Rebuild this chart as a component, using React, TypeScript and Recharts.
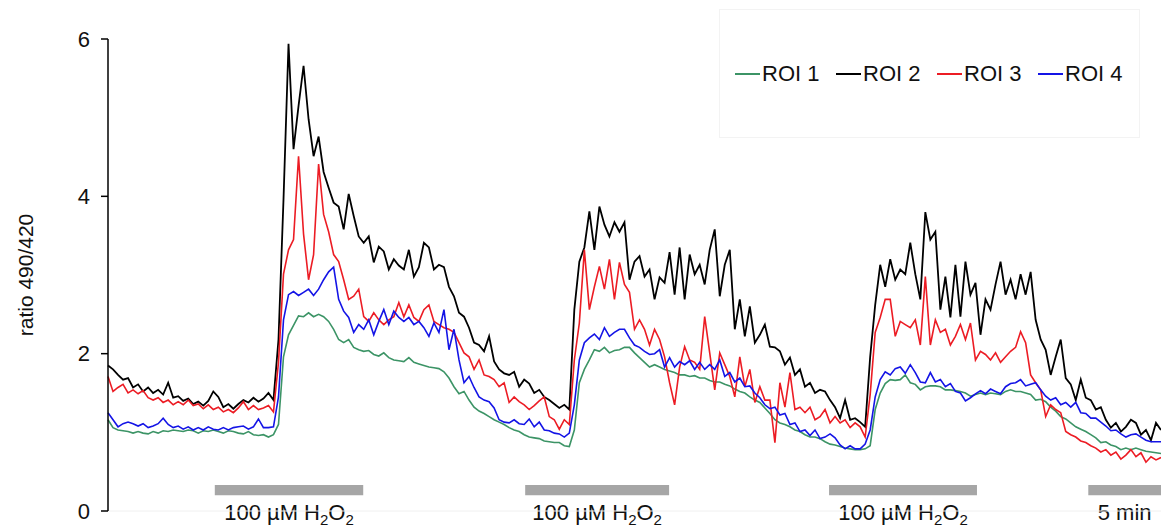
import { LineChart, Line, XAxis, YAxis, ReferenceArea, Legend } from 'recharts';

// ratio 490/420, one value per frame (frames 0..210)
const roi1 = [
  1.16, 1.06, 1.03, 1.02, 1.01, 0.99, 1.01, 0.99, 0.98, 1.01,
  0.99, 1.02, 1.01, 1.03, 1.02, 1.01, 1.03, 1.02, 0.99, 1.02,
  1.01, 1.03, 1.01, 0.99, 1.02, 1.01, 0.99, 0.98, 1.01, 0.97,
  0.96, 0.97, 0.94, 0.97, 1.10, 1.96, 2.24, 2.36, 2.48, 2.47,
  2.52, 2.47, 2.50, 2.47, 2.41, 2.31, 2.18, 2.14, 2.18, 2.08,
  2.05, 2.03, 2.04, 1.99, 1.97, 2.01, 1.95, 1.92, 1.91, 1.90,
  1.95, 1.89, 1.87, 1.85, 1.83, 1.82, 1.81, 1.77, 1.69, 1.58,
  1.49, 1.52, 1.41, 1.32, 1.27, 1.24, 1.20, 1.16, 1.13, 1.10,
  1.06, 1.03, 1.01, 0.97, 0.94, 0.93, 0.92, 0.89, 0.88, 0.87,
  0.87, 0.83, 0.82, 1.03, 1.63, 1.80, 1.92, 2.05, 2.03, 2.08,
  2.01, 2.04, 2.05, 2.08, 2.08, 2.01, 1.95, 1.89, 1.83, 1.86,
  1.83, 1.80, 1.78, 1.76, 1.73, 1.73, 1.71, 1.72, 1.69, 1.69,
  1.66, 1.64, 1.64, 1.61, 1.59, 1.55, 1.52, 1.50, 1.45, 1.41,
  1.38, 1.31, 1.24, 1.16, 1.12, 1.10, 1.07, 1.03, 1.01, 0.97,
  0.94, 0.94, 0.92, 0.88, 0.85, 0.84, 0.82, 0.80, 0.79, 0.78,
  0.78, 0.79, 0.83, 1.29, 1.50, 1.62, 1.67, 1.66, 1.67, 1.73,
  1.63, 1.61, 1.54, 1.58, 1.59, 1.59, 1.58, 1.54, 1.54, 1.53,
  1.52, 1.50, 1.46, 1.48, 1.50, 1.48, 1.50, 1.49, 1.48, 1.52,
  1.54, 1.52, 1.52, 1.50, 1.48, 1.41, 1.42, 1.39, 1.32, 1.27,
  1.20, 1.17, 1.12, 1.07, 1.04, 1.01, 0.97, 0.93, 0.87, 0.88,
  0.84, 0.82, 0.78, 0.80, 0.78, 0.80, 0.78, 0.76, 0.75, 0.74, 0.73,
];

const roi2 = [
  1.85, 1.80, 1.73, 1.67, 1.69, 1.57, 1.61, 1.52, 1.57, 1.50,
  1.54, 1.48, 1.63, 1.44, 1.46, 1.40, 1.43, 1.36, 1.39, 1.34,
  1.40, 1.52, 1.45, 1.32, 1.36, 1.30, 1.36, 1.41, 1.38, 1.44,
  1.39, 1.43, 1.50, 1.41, 2.18, 3.96, 5.94, 4.60, 5.15, 5.66,
  4.98, 4.51, 4.76, 4.31, 4.11, 3.92, 3.87, 3.58, 4.03, 3.75,
  3.49, 3.41, 3.49, 3.16, 3.36, 3.30, 3.07, 3.20, 3.12, 3.07,
  3.32, 2.98, 3.10, 3.41, 3.35, 3.07, 3.13, 3.10, 2.85, 2.73,
  2.52, 2.47, 2.33, 2.14, 2.11, 2.03, 2.22, 1.90, 1.80, 1.75,
  1.73, 1.77, 1.58, 1.67, 1.62, 1.50, 1.54, 1.45, 1.41, 1.36,
  1.31, 1.35, 1.29, 2.56, 3.17, 3.35, 3.81, 3.32, 3.87, 3.64,
  3.49, 3.67, 3.55, 3.67, 2.94, 3.17, 3.24, 2.98, 3.07, 2.69,
  2.97, 2.90, 3.29, 2.75, 3.35, 2.69, 3.26, 3.01, 3.13, 2.88,
  3.32, 3.58, 2.73, 3.13, 3.32, 2.31, 2.69, 2.22, 2.60, 2.14,
  2.24, 2.37, 2.09, 2.08, 2.03, 1.86, 1.95, 1.73, 1.80, 1.58,
  1.63, 1.50, 1.54, 1.52, 1.41, 1.32, 1.18, 1.41, 1.16, 1.18,
  1.13, 1.07, 1.96, 2.62, 3.13, 2.85, 3.20, 2.94, 3.07, 3.01,
  3.41, 3.01, 2.69, 3.80, 3.45, 3.55, 2.56, 2.98, 2.46, 3.13,
  2.47, 3.17, 2.75, 2.90, 2.24, 2.69, 2.56, 2.88, 3.17, 2.75,
  2.94, 2.69, 3.01, 2.75, 3.04, 2.43, 2.18, 2.05, 1.73, 1.96,
  2.18, 1.69, 1.61, 1.41, 1.67, 1.44, 1.41, 1.29, 1.32, 1.16,
  1.06, 1.12, 1.01, 1.07, 1.16, 1.12, 0.97, 1.03, 0.90, 1.12, 1.03,
];

const roi3 = [
  1.71, 1.52, 1.57, 1.61, 1.50, 1.54, 1.49, 1.53, 1.44, 1.41,
  1.44, 1.38, 1.41, 1.35, 1.39, 1.35, 1.41, 1.34, 1.36, 1.30,
  1.35, 1.29, 1.32, 1.26, 1.29, 1.25, 1.31, 1.39, 1.29, 1.34,
  1.29, 1.31, 1.34, 1.26, 1.89, 3.01, 3.32, 3.45, 4.51, 3.52,
  2.94, 3.26, 4.41, 3.77, 3.55, 3.26, 3.17, 2.94, 2.69, 2.73,
  2.82, 2.47, 2.41, 2.52, 2.43, 2.37, 2.43, 2.47, 2.65, 2.47,
  2.62, 2.46, 2.41, 2.56, 2.62, 2.41, 2.37, 2.33, 2.31, 2.27,
  2.14, 2.01, 1.96, 1.80, 1.92, 1.73, 1.71, 1.67, 1.58, 1.63,
  1.38, 1.45, 1.39, 1.35, 1.29, 1.34, 1.40, 1.45, 1.20, 1.16,
  1.04, 1.16, 1.10, 1.92, 2.39, 3.32, 2.56, 2.85, 3.11, 2.82,
  3.20, 2.69, 3.16, 2.88, 2.78, 2.31, 2.43, 2.31, 2.11, 2.31,
  2.18, 1.96, 1.63, 1.35, 1.83, 2.09, 1.92, 1.89, 1.80, 2.47,
  2.01, 1.54, 2.01, 1.86, 1.71, 1.45, 1.96, 1.58, 1.80, 1.38,
  1.58, 1.41, 1.41, 0.87, 1.63, 1.32, 1.76, 1.29, 1.32, 1.25,
  1.32, 1.16, 1.20, 1.29, 1.12, 1.20, 1.12, 1.16, 1.06, 1.12,
  1.07, 0.94, 1.48, 2.27, 2.46, 2.69, 2.69, 2.22, 2.41, 2.37,
  2.33, 2.43, 2.11, 2.98, 2.11, 2.43, 2.27, 2.31, 2.11, 2.22,
  2.37, 2.18, 2.39, 1.92, 2.03, 1.99, 1.92, 2.01, 1.89, 1.96,
  2.03, 2.08, 2.28, 2.14, 1.73, 1.63, 1.54, 1.20, 1.35, 1.29,
  1.25, 1.01, 0.97, 0.94, 0.89, 0.87, 0.83, 0.80, 0.75, 0.78,
  0.71, 0.75, 0.66, 0.71, 0.78, 0.69, 0.74, 0.62, 0.69, 0.65, 0.68,
];

const roi4 = [
  1.25, 1.16, 1.07, 1.11, 1.13, 1.11, 1.08, 1.11, 1.06, 1.08,
  1.11, 1.18, 1.10, 1.06, 1.08, 1.04, 1.07, 1.03, 1.06, 1.03,
  1.07, 1.04, 1.03, 1.06, 1.03, 1.06, 1.07, 1.08, 1.04, 1.07,
  1.17, 1.06, 1.06, 1.07, 1.45, 2.43, 2.75, 2.79, 2.74, 2.78,
  2.82, 2.74, 2.82, 2.94, 3.04, 3.10, 2.69, 2.54, 2.46, 2.27,
  2.37, 2.31, 2.43, 2.24, 2.41, 2.56, 2.37, 2.54, 2.46, 2.41,
  2.46, 2.37, 2.41, 2.33, 2.22, 2.39, 2.27, 2.56, 2.05, 2.31,
  1.92, 1.63, 1.71, 1.57, 1.45, 1.41, 1.39, 1.31, 1.16, 1.13,
  1.12, 1.16, 1.11, 1.10, 1.17, 1.07, 1.13, 1.03, 1.02, 0.99,
  0.98, 0.94, 0.99, 1.35, 1.92, 2.14, 2.20, 2.25, 2.18, 2.33,
  2.22, 2.27, 2.31, 2.31, 2.20, 2.11, 2.08, 2.03, 1.99, 2.00,
  2.05, 1.83, 1.95, 1.83, 1.90, 1.86, 1.91, 1.80, 1.89, 1.80,
  1.86, 1.80, 1.92, 1.71, 1.76, 1.64, 1.69, 1.58, 1.59, 1.50,
  1.44, 1.35, 1.30, 1.32, 1.22, 1.24, 1.10, 1.12, 1.01, 1.03,
  0.96, 1.03, 0.92, 0.94, 0.98, 0.93, 0.84, 0.79, 0.83, 0.79,
  0.79, 0.85, 1.03, 1.45, 1.67, 1.77, 1.73, 1.81, 1.83, 1.75,
  1.86, 1.76, 1.64, 1.63, 1.76, 1.64, 1.67, 1.58, 1.62, 1.52,
  1.50, 1.40, 1.44, 1.49, 1.53, 1.49, 1.55, 1.52, 1.49, 1.58,
  1.62, 1.63, 1.67, 1.59, 1.61, 1.63, 1.54, 1.46, 1.41, 1.44,
  1.35, 1.38, 1.32, 1.38, 1.25, 1.24, 1.18, 1.18, 1.13, 1.08,
  1.02, 1.03, 0.98, 0.94, 0.97, 0.98, 0.94, 0.90, 0.88, 0.88, 0.88,
];

const seriesNames = ['ROI 1', 'ROI 2', 'ROI 3', 'ROI 4'];
const seriesColors = ['#3c9466', '#000000', '#ec1c24', '#1414e6'];
const yTicks = [0, 2, 4, 6];

// stimulus periods and scale bar, in frames
const barStart = [21.3, 83.2, 143.8, 195.5];
const barEnd = [50.9, 111.9, 173.3, 210];
const barLabels = ['100 µM H_2O_2', '100 µM H_2O_2', '100 µM H_2O_2', '5 min'];

const FONT = '"Liberation Sans", Arial, sans-serif';

const data = roi1.map((v, i) => ({ t: i, roi1: v, roi2: roi2[i], roi3: roi3[i], roi4: roi4[i] }));

function labelParts(s: string) {
  // "_x" marks a subscript character
  const out: { text: string; sub: boolean }[] = [];
  let buf = '';
  for (let i = 0; i < s.length; i++) {
    if (s[i] === '_') {
      if (buf) out.push({ text: buf, sub: false });
      buf = '';
      out.push({ text: s[i + 1], sub: true });
      i++;
    } else buf += s[i];
  }
  if (buf) out.push({ text: buf, sub: false });
  return out;
}

const BarLabel = (props: any) => {
  const { viewBox, value } = props;
  const cx = viewBox.x + viewBox.width / 2;
  const y = viewBox.y + viewBox.height + 25;
  let prevSub = false;
  return (
    <text x={cx} y={y} textAnchor="middle" fontFamily={FONT} fontSize={22} fill="#111">
      {labelParts(value).map((p, k) => {
        const dy = p.sub && !prevSub ? 5 : !p.sub && prevSub ? -5 : 0;
        prevSub = p.sub;
        return (
          <tspan key={k} dy={dy} fontSize={p.sub ? 15 : 22}>
            {p.text}
          </tspan>
        );
      })}
    </text>
  );
};

const YTitle = (props: any) => {
  const { viewBox } = props;
  const cx = viewBox.x + 25;
  const cy = viewBox.y + viewBox.height / 2;
  return (
    <text
      x={cx}
      y={cy}
      transform={`rotate(-90 ${cx} ${cy})`}
      textAnchor="middle"
      dominantBaseline="central"
      fontFamily={FONT}
      fontSize={21}
      fill="#111"
    >
      ratio 490/420
    </text>
  );
};

const LegendBox = () => (
  <div
    style={{
      width: '100%',
      height: '100%',
      boxSizing: 'border-box',
      border: '1px solid #f3f3f3',
      display: 'flex',
      alignItems: 'center',
      paddingLeft: 15,
      fontFamily: FONT,
      fontSize: 22,
      color: '#111',
    }}
  >
    {seriesNames.map((name, k) => (
      <div key={name} style={{ display: 'flex', alignItems: 'center', width: 102.5 }}>
        <div style={{ width: 25, height: 2, background: seriesColors[k], marginRight: 2 }} />
        <span>{name}</span>
      </div>
    ))}
  </div>
);

export default function App() {
  return (
    <div style={{ position: 'absolute', left: 0, top: 0, width: 1161, height: 529, background: '#fff' }}>
      <LineChart width={1161} height={529} data={data} margin={{ top: 39, right: 0, bottom: 0, left: 0 }}>
        <XAxis
          type="number"
          dataKey="t"
          domain={[0, 210]}
          tick={false}
          tickLine={false}
          axisLine={{ stroke: '#f0f0f0' }}
          height={18}
        />
        <YAxis
          domain={[0, 6]}
          ticks={yTicks}
          width={108}
          tickSize={7}
          tickMargin={11}
          axisLine={{ stroke: '#000', strokeWidth: 1.5 }}
          tickLine={{ stroke: '#000', strokeWidth: 1.5 }}
          tick={{ fontSize: 22, fontFamily: FONT, fill: '#111' }}
          label={{ content: YTitle }}
        />
        {barStart.map((s, k) => (
          <ReferenceArea
            key={k}
            x1={s}
            x2={barEnd[k]}
            y1={0.2}
            y2={0.33}
            fill="#a6a6a6"
            fillOpacity={1}
            stroke="none"
            label={<BarLabel value={barLabels[k]} />}
          />
        ))}
        <Line type="linear" dataKey="roi1" name={seriesNames[0]} stroke={seriesColors[0]} strokeWidth={1.6} dot={false} isAnimationActive={false} />
        <Line type="linear" dataKey="roi2" name={seriesNames[1]} stroke={seriesColors[1]} strokeWidth={1.8} dot={false} isAnimationActive={false} />
        <Line type="linear" dataKey="roi3" name={seriesNames[2]} stroke={seriesColors[2]} strokeWidth={1.6} dot={false} isAnimationActive={false} />
        <Line type="linear" dataKey="roi4" name={seriesNames[3]} stroke={seriesColors[3]} strokeWidth={1.6} dot={false} isAnimationActive={false} />
        <Legend
          layout="horizontal"
          verticalAlign="middle"
          align="center"
          content={<LegendBox />}
          wrapperStyle={{ position: 'absolute', left: 719, top: 9, width: 421, height: 129 }}
        />
      </LineChart>
    </div>
  );
}
